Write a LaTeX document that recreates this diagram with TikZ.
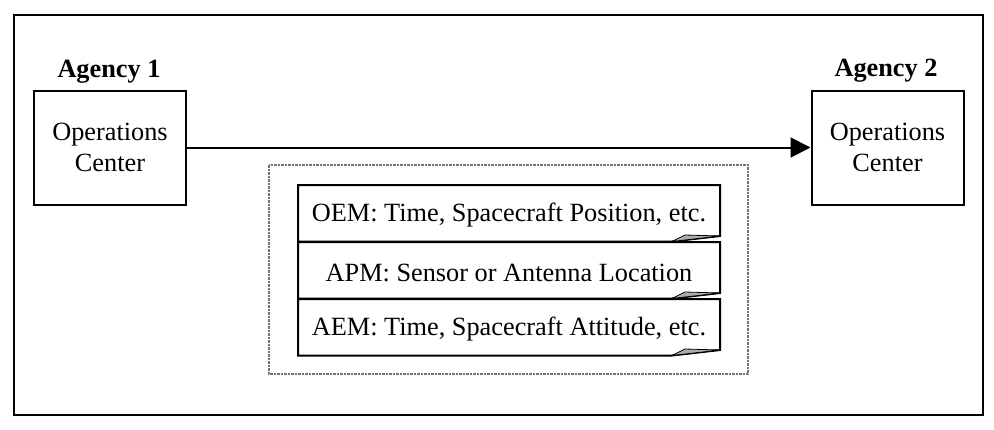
\documentclass[tikz,border=0pt]{standalone}
\usepackage{fontspec}
\setmainfont{Liberation Serif}
\usetikzlibrary{arrows.meta}
\tikzset{
 frame/.style={draw=black, line width=2pt},
 opbox/.style={draw, line width=2pt, minimum width=152pt, minimum height=114pt, align=center, inner sep=0pt, font=\fontsize{26.3}{31}\selectfont},
 agency/.style={font=\fontsize{26.3}{31}\selectfont\bfseries, inner sep=0pt},
 doctext/.style={font=\fontsize{26.3}{31}\selectfont, inner sep=0pt},
 docline/.style={draw, line width=2pt, line join=miter, fill=white},
 fold/.style={fill=gray!65, draw, line width=0.8pt, line join=miter},
 msgbox/.style={draw=gray!90!black, line width=1.5pt, dash pattern=on 2.5pt off 1pt},
 flow/.style={line width=2pt, -{Triangle[length=20pt,width=20pt]}},
}
\begin{document}
\begin{tikzpicture}[x=1pt,y=-1pt]
\useasboundingbox (0,0) rectangle (994,429);
\draw[frame] (14,14.5) rectangle (982.5,414.5);
\node[opbox] (op1) at (110,147.5) {Operations\\Center};
\node[opbox] (op2) at (887.5,147.5) {Operations\\Center};
\node[agency] (ag1) at (109,72) {Agency 1};
\node[agency] (ag2) at (886,71) {Agency 2};
\draw[flow] (op1.east) -- (op2.west);
\draw[msgbox] (269,165) rectangle (748,374);
\foreach \t/\txt/\nm in {185/{OEM: Time, Spacecraft Position, etc.}/oem,
                          242/{APM: Sensor or Antenna Location}/apm,
                          299/{AEM: Time, Spacecraft Attitude, etc.}/aem}{
  \draw[docline] (298,\t) -- (720,\t) -- (720,\t+51) -- (672,\t+56.5) -- (298,\t+56.5) -- cycle;
  \filldraw[fold] (672,\t+56.5) -- (685,\t+50) -- (720,\t+51) -- cycle;
  \node[doctext] (\nm) at (509,\t+30.5) {\txt};
}
\end{tikzpicture}
\end{document}
